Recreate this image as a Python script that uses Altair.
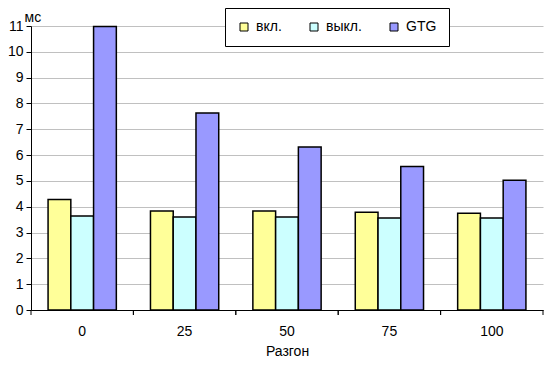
import altair as alt
import pandas as pd

categories = ["0", "25", "50", "75", "100"]
series = ["вкл.", "выкл.", "GTG"]
vkl = [4.28, 3.83, 3.83, 3.79, 3.75]
vykl = [3.64, 3.60, 3.60, 3.56, 3.56]
gtg = [10.98, 7.63, 6.31, 5.56, 5.03]
colors = ["#FFFF99", "#CCFFFF", "#9999FF"]
y_ticks = list(range(0, 12))

rows = []
for name, vals in zip(series, [vkl, vykl, gtg]):
    for c, v in zip(categories, vals):
        rows.append({"cat": c, "series": name, "value": v})
df = pd.DataFrame(rows)
cat_df = pd.DataFrame({"cat": categories})

FONT = "Liberation Sans"
W, H = 512, 284

x_scale = alt.Scale(paddingInner=0, paddingOuter=0)

bars = alt.Chart(df).mark_bar(stroke="black", strokeWidth=1.5).encode(
    x=alt.X("cat:O", sort=categories, scale=x_scale,
            axis=alt.Axis(title="Разгон", labelAngle=0, ticks=False, grid=False,
                          domainColor="black", labelPadding=14, titlePadding=6,
                          labelFontSize=14, titleFontSize=14, titleFontWeight="normal",
                          labelColor="black", titleColor="black", zindex=1,
                          labelFont=FONT, titleFont=FONT)),
    xOffset=alt.XOffset("series:N", sort=series,
                        scale=alt.Scale(paddingInner=0, paddingOuter=0.75)),
    y=alt.Y("value:Q", scale=alt.Scale(domain=[0, 11], nice=False),
            axis=alt.Axis(title="мс", values=y_ticks, grid=True, gridColor="#c0c0c0",
                          domainColor="black", tickColor="black", tickSize=5,
                          labelPadding=3, labelFontSize=14, labelColor="black",
                          titleAngle=0, titleAlign="left", titleBaseline="alphabetic",
                          titleX=-7, titleY=-5, titleFontSize=14, titleFontWeight="normal",
                          titleColor="black", labelFont=FONT, titleFont=FONT)),
    color=alt.Color("series:N", sort=series,
                    scale=alt.Scale(domain=series, range=colors),
                    legend=alt.Legend(title=None, orient="none", legendX=194, legendY=-18,
                                      direction="horizontal", symbolType="square",
                                      symbolSize=64, symbolStrokeColor="black",
                                      symbolStrokeWidth=1, labelFontSize=14,
                                      labelFont=FONT, labelColor="black", labelOffset=5,
                                      columnPadding=25, padding=12, strokeColor="black",
                                      fillColor="white")),
)

ticks0 = alt.Chart(cat_df).mark_rule(color="black").encode(
    x=alt.X("cat:O", sort=categories, bandPosition=0),
    y=alt.value(H), y2=alt.value(H + 5),
)
ticks1 = alt.Chart(cat_df).mark_rule(color="black").encode(
    x=alt.X("cat:O", sort=categories, bandPosition=1),
    y=alt.value(H), y2=alt.value(H + 5),
)

chart = alt.layer(bars, ticks0, ticks1).properties(
    width=W, height=H,
    autosize=alt.AutoSizeParams(type="none"),
    padding={"left": 23, "top": 18, "right": 2, "bottom": 53},
).configure_view(stroke=None)

chart.save("out.html", embed_options={"renderer": "svg", "actions": False})
